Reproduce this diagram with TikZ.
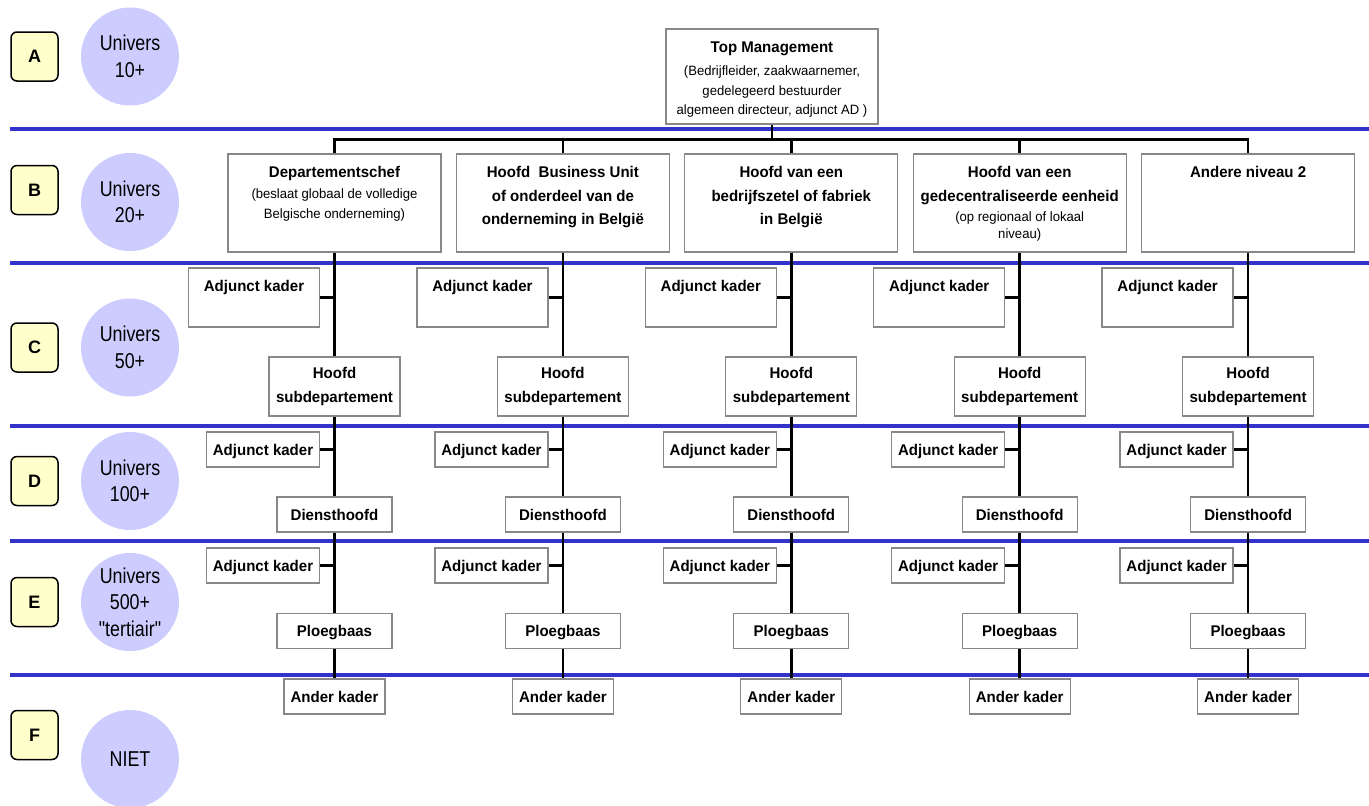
\documentclass[tikz,border=0pt]{standalone}
\usepackage{fontspec}
\setmainfont{Liberation Sans}
\newfontfamily\orgsans[FakeStretch=0.97]{Liberation Sans}
\newfontfamily\narrowsans[FakeStretch=0.83]{Liberation Sans}
\usepackage{xcolor}
\usepackage{tikz}
\definecolor{sepblue}{RGB}{51,51,204}
\definecolor{unilav}{RGB}{204,204,255}
\definecolor{lvlyellow}{RGB}{255,255,204}
\definecolor{boxgray}{RGB}{136,136,136}
\newcommand{\subtxt}{\mdseries\fontsize{13.5}{19.5}\selectfont}
\tikzstyle{sepline} = [sepblue, line width = 4pt]
\tikzstyle{orgline} = [-, black, line width = 2.7pt]
\tikzstyle{lvlbox} = [rectangle, rounded corners = 6pt, draw = black, line width = 1.5pt, fill = lvlyellow, minimum width = 47pt, minimum height = 49pt, inner sep = 0, font = \bfseries\fontsize{18}{22}\selectfont]
\tikzstyle{unicirc} = [circle, fill = unilav, minimum size = 98pt, inner sep = 0, align = center, font = \narrowsans\fontsize{21.5}{26.5}\selectfont]
\tikzstyle{orgbox} = [rectangle, draw = boxgray, line width = 1.3pt, fill = white, inner sep = 0, font = \orgsans\bfseries\fontsize{15.5}{23.5}\selectfont]
\tikzstyle{lowbox} = [orgbox, minimum height = 35pt, text height = 11pt, text depth = 0pt]
\tikzset{hibox/.style = {orgbox, text height = 23.5pt, text depth = #1}}

\begin{document}
\begin{tikzpicture}[x = 1pt, y = -1pt]
\useasboundingbox (0, 0) rectangle (1369, 806);
\foreach \y in {128.5, 263, 426, 541, 675}
  \draw [sepline] (10, \y) -- (1369, \y);
% levels
\node [lvlbox] (lvA) at (34.5, 56.5) {A};
\node [lvlbox] (lvB) at (34.5, 190) {B};
\node [lvlbox] (lvC) at (34.5, 347.5) {C};
\node [lvlbox] (lvD) at (34.5, 481) {D};
\node [lvlbox] (lvE) at (34.5, 602) {E};
\node [lvlbox] (lvF) at (34.5, 735) {F};
\node [unicirc] (uniA) at (130, 56.5) {Univers\\10+};
\node [unicirc] (uniB) at (130, 202) {Univers\\20+};
\node [unicirc] (uniC) at (130, 347.5) {Univers\\50+};
\node [unicirc] (uniD) at (130, 481) {Univers\\100+};
\node [unicirc] (uniE) at (130, 602) {Univers\\500+\\"tertiair"};
\node [unicirc] (uniF) at (130, 759) {NIET};
% top and level 2
\node [hibox = 71.5pt, text width = 212pt, align = flush center] (top) at (772, 76.5) {Top Management\\[3.5pt] \subtxt (Bedrijfleider, zaakwaarnemer,\\ gedelegeerd bestuurder\\ algemeen directeur, adjunct AD )\par};
\node [hibox = 74.5pt, text width = 213pt, align = flush center] (dep1) at (334.5, 203) {Departementschef\\[1.5pt] \subtxt (beslaat globaal de volledige\\ Belgische onderneming)\par};
\node [hibox = 74.5pt, text width = 213pt, align = flush center] (dep2) at (562.9, 203) {Hoofd\ \ Business Unit\\ of onderdeel van de\\ onderneming in België};
\node [hibox = 74.5pt, text width = 213pt, align = flush center] (dep3) at (791.3, 203) {Hoofd van een\\ bedrijfszetel of fabriek\\ in België};
\node [hibox = 74.5pt, text width = 213pt, align = flush center] (dep4) at (1019.7, 203) {Hoofd van een\\[0.5pt] gedecentraliseerde eenheid\\ \subtxt (op regionaal of lokaal\\[-2pt] niveau)\par};
\node [hibox = 74.5pt, text width = 213pt, align = flush center] (dep5) at (1248.1, 203) {Andere niveau 2};
\coordinate (bar) at (772, 139.5);
\draw [orgline] (top) -- (bar);
\draw [orgline] (dep1) -- (bar -| dep1) -- (bar -| dep5) -- (dep5);
\draw [orgline] (bar -| dep2) -- (dep2);
\draw [orgline] (bar -| dep3) -- (dep3);
\draw [orgline] (bar -| dep4) -- (dep4);
% columns
\foreach \i/\x in {1/334.5, 2/562.9, 3/791.3, 4/1019.7, 5/1248.1} {
  \node [hibox = 35.5pt, minimum width = 131pt] (adjc\i) at (\x-80.5, 297.5) {Adjunct kader};
  \node [orgbox, align = center, minimum width = 131pt, minimum height = 59pt] (sub\i) at (\x, 386.5) {Hoofd\\ subdepartement};
  \node [lowbox, minimum width = 113pt] (adjd\i) at (\x-71.5, 449.5) {Adjunct kader};
  \node [lowbox, minimum width = 115pt] (dienst\i) at (\x, 514.5) {Diensthoofd};
  \node [lowbox, minimum width = 113pt] (adje\i) at (\x-71.5, 565.5) {Adjunct kader};
  \node [lowbox, minimum width = 115pt] (ploeg\i) at (\x, 631) {Ploegbaas};
  \node [lowbox, minimum width = 101pt] (ander\i) at (\x, 696.5) {Ander kader};
  \draw [orgline] (dep\i) -- (sub\i);
  \draw [orgline] (sub\i) -- (dienst\i);
  \draw [orgline] (dienst\i) -- (ploeg\i);
  \draw [orgline] (ploeg\i) -- (ander\i);
  \draw [orgline] (adjc\i) -- (adjc\i -| sub\i);
  \draw [orgline] (adjd\i) -- (adjd\i -| dienst\i);
  \draw [orgline] (adje\i) -- (adje\i -| ploeg\i);
}
\end{tikzpicture}
\end{document}
